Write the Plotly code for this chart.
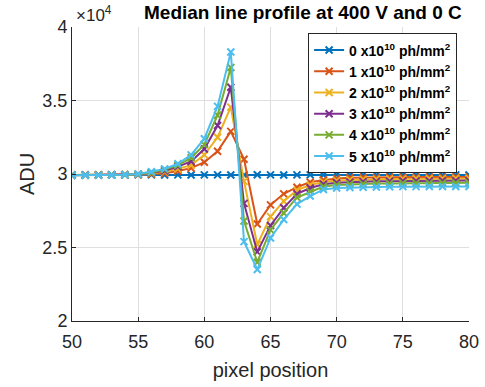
import plotly.graph_objects as go

pixel = list(range(50, 81))

s0 = [2.993, 2.994, 2.994, 2.995, 2.994, 2.995, 2.994, 2.993, 2.994, 2.993, 2.994, 2.994, 2.993, 2.994, 2.995, 2.994,
      2.993, 2.994, 2.994, 2.993, 2.994, 2.993, 2.994, 2.994, 2.993, 2.994, 2.993, 2.994, 2.993, 2.994, 2.993]
s1 = [2.993, 2.993, 2.994, 2.994, 2.995, 2.996, 3.000, 3.005, 3.020, 3.040, 3.080, 3.155, 3.290, 3.100, 2.660, 2.790,
      2.865, 2.910, 2.945, 2.960, 2.970, 2.974, 2.976, 2.977, 2.978, 2.978, 2.979, 2.979, 2.979, 2.980, 2.980]
s2 = [2.993, 2.993, 2.994, 2.994, 2.995, 2.997, 3.005, 3.015, 3.035, 3.060, 3.130, 3.250, 3.455, 2.950, 2.520, 2.710,
      2.815, 2.890, 2.925, 2.945, 2.955, 2.960, 2.963, 2.965, 2.966, 2.967, 2.968, 2.968, 2.968, 2.969, 2.969]
s3 = [2.992, 2.993, 2.993, 2.994, 2.995, 2.998, 3.008, 3.022, 3.050, 3.085, 3.170, 3.330, 3.590, 2.800, 2.470, 2.650,
      2.770, 2.865, 2.905, 2.930, 2.940, 2.945, 2.948, 2.950, 2.951, 2.952, 2.953, 2.953, 2.954, 2.954, 2.955]
s4 = [2.992, 2.992, 2.993, 2.994, 2.995, 2.999, 3.010, 3.030, 3.060, 3.110, 3.200, 3.400, 3.725, 2.680, 2.400, 2.620,
      2.735, 2.840, 2.880, 2.915, 2.925, 2.930, 2.933, 2.935, 2.936, 2.937, 2.938, 2.938, 2.939, 2.939, 2.940]
s5 = [2.991, 2.991, 2.992, 2.993, 2.995, 3.000, 3.015, 3.035, 3.070, 3.130, 3.240, 3.460, 3.830, 2.540, 2.350, 2.565,
      2.690, 2.795, 2.850, 2.895, 2.905, 2.908, 2.910, 2.912, 2.913, 2.914, 2.914, 2.915, 2.915, 2.915, 2.915]

series = [s0, s1, s2, s3, s4, s5]
names = ["0", "1", "2", "3", "4", "5"]
colors = ["#0072BD", "#D95319", "#EDB120", "#7E2F8E", "#77AC30", "#4DBEEE"]

y_ticks = [2, 2.5, 3, 3.5, 4]
y_tick_labels = ["2", "2.5", "3", "3.5", "4"]
x_ticks = [50, 55, 60, 65, 70, 75, 80]

FONT = "Liberation Sans, Arial, sans-serif"

fig = go.Figure()
for vals, nm, col in zip(series, names, colors):
    fig.add_trace(go.Scatter(
        x=pixel, y=[v * 1e4 for v in vals], mode="lines+markers",
        name=f"<b>{nm} x10<sup>10</sup> ph/mm<sup>2</sup></b>",
        line=dict(color=col, width=2),
        marker=dict(symbol="x-thin", size=7, line=dict(color=col, width=2), color=col),
    ))

fig.update_layout(
    width=485, height=387,
    margin=dict(l=72, r=16, t=27, b=66, autoexpand=False),
    paper_bgcolor="white", plot_bgcolor="white",
    font=dict(family=FONT, color="#262626"),
    showlegend=True,
    legend=dict(
        x=0.97, xanchor="right", y=0.978, yanchor="top",
        bgcolor="white", bordercolor="#262626", borderwidth=1,
        font=dict(size=14, color="#000000", family=FONT),
        tracegroupgap=0, itemwidth=30,
    ),
)
fig.update_xaxes(
    range=[50, 80], tickvals=x_ticks, showgrid=True, gridcolor="#dfdfdf", gridwidth=1,
    showline=True, linecolor="#262626", linewidth=1, ticks="inside", ticklen=4, tickcolor="#262626",
    tickfont=dict(size=18, color="#262626"), zeroline=False, automargin=False,
    ticklabelstandoff=4,
    title=dict(text="pixel position", font=dict(size=20, color="#262626"), standoff=12),
)
fig.update_yaxes(
    range=[20000, 40000], tickvals=[v * 1e4 for v in y_ticks], ticktext=y_tick_labels,
    showgrid=True, gridcolor="#dfdfdf", gridwidth=1,
    showline=True, linecolor="#262626", linewidth=1, ticks="inside", ticklen=4, tickcolor="#262626",
    tickfont=dict(size=18, color="#262626"), zeroline=False, automargin=False,
    title=dict(text="ADU", font=dict(size=20, color="#262626"), standoff=2),
)
fig.add_annotation(
    text="×10<sup>4</sup>", xref="paper", yref="paper", x=0.005, y=1.0,
    xanchor="left", yanchor="bottom", yshift=0, showarrow=False,
    font=dict(size=17, color="#262626", family=FONT),
)
fig.add_annotation(
    text="<b>Median line profile at 400 V and 0 C</b>", xref="paper", yref="paper",
    x=0.583, y=1.0, xanchor="center", yanchor="bottom", yshift=2, showarrow=False,
    font=dict(size=19, color="#000000", family=FONT),
)

fig.write_html("out.html")
